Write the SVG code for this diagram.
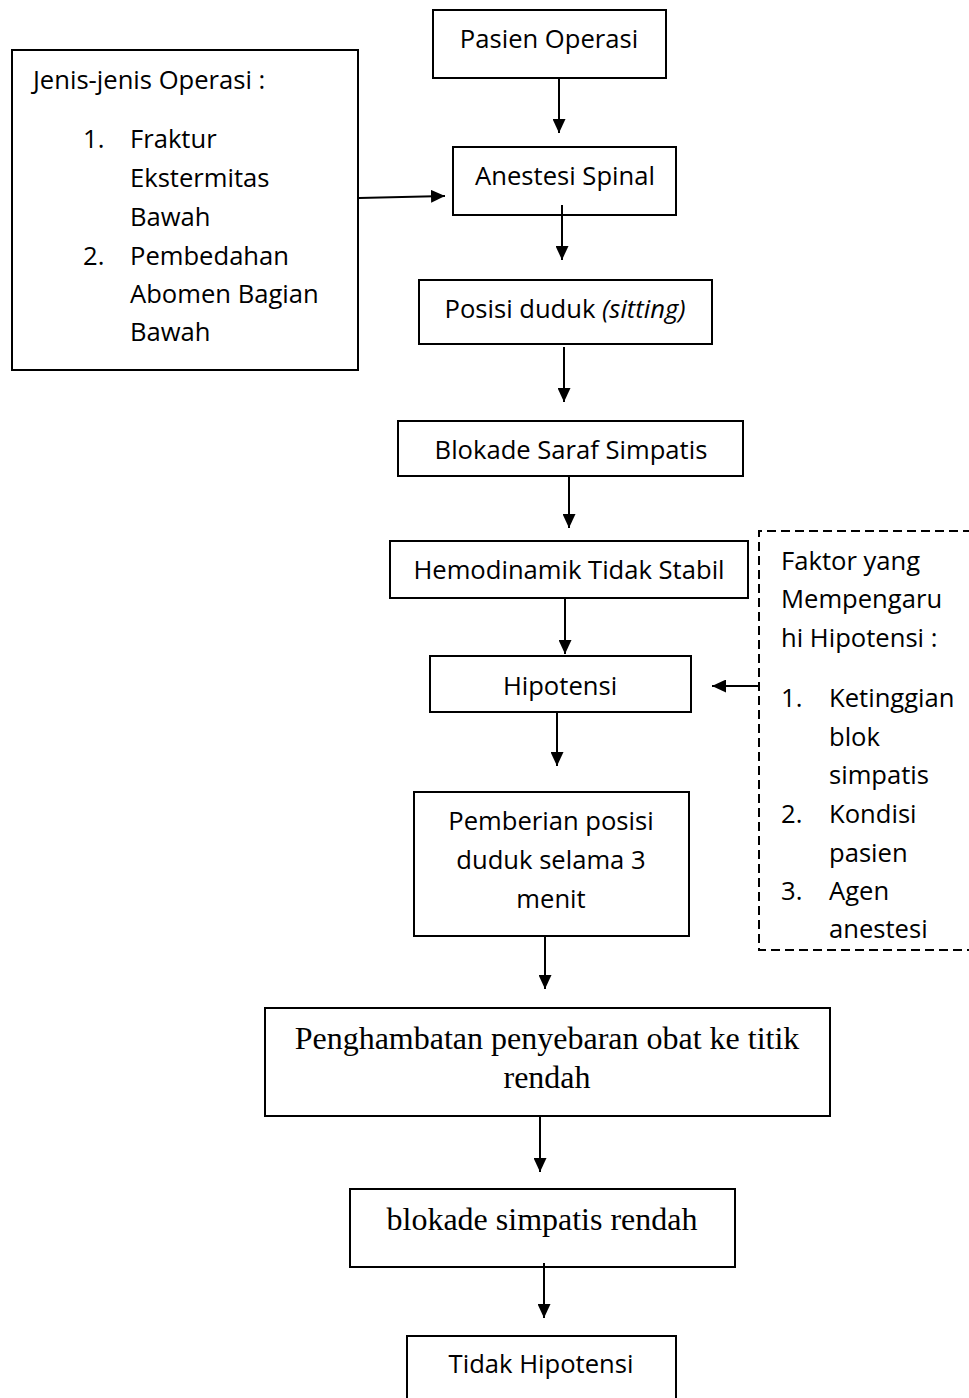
<svg xmlns="http://www.w3.org/2000/svg" width="969" height="1398" viewBox="0 0 969 1398">
<style>
.box{fill:#fff;stroke:#000;stroke-width:2}
.dash{fill:none;stroke:#000;stroke-width:2;stroke-dasharray:9 5}
.t{font-family:"Open Sans","Noto Sans",sans-serif;font-size:25.6px;fill:#000}
.c{text-anchor:middle}
.s{font-family:"Liberation Serif","Times New Roman",serif;font-size:32px;fill:#000;text-anchor:middle}
.con line{stroke:#000;stroke-width:2;marker-end:url(#ah)}
</style>
<defs>
<marker id="ah" markerUnits="userSpaceOnUse" markerWidth="14" markerHeight="13" refX="14" refY="6.5" orient="auto">
<path d="M0,0 L14,6.5 L0,13 z" fill="#000"/>
</marker>
</defs>
<rect width="969" height="1398" fill="#fff"/>
<g id="jenis-operasi">
<rect class="box" x="12" y="50" width="346" height="320"/>
<text class="t" x="33" y="89">Jenis-jenis Operasi :</text>
<text class="t" x="83" y="148">1.</text>
<text class="t" x="130" y="148">Fraktur</text>
<text class="t" x="130" y="187">Ekstermitas</text>
<text class="t" x="130" y="226">Bawah</text>
<text class="t" x="83" y="265">2.</text>
<text class="t" x="130" y="265">Pembedahan</text>
<text class="t" x="130" y="303">Abomen Bagian</text>
<text class="t" x="130" y="341">Bawah</text>
</g>
<g id="pasien-operasi">
<rect class="box" x="433" y="10" width="233" height="68"/>
<text class="t c" x="549" y="48">Pasien Operasi</text>
</g>
<g id="anestesi-spinal">
<rect class="box" x="453" y="147" width="223" height="68"/>
<text class="t c" x="565" y="185">Anestesi Spinal</text>
</g>
<g id="posisi-duduk">
<rect class="box" x="419" y="280" width="293" height="64"/>
<text class="t c" x="565" y="318">Posisi duduk <tspan font-style="italic">(sitting)</tspan></text>
</g>
<g id="blokade-saraf">
<rect class="box" x="398" y="421" width="345" height="55"/>
<text class="t c" x="571" y="459">Blokade Saraf Simpatis</text>
</g>
<g id="hemodinamik">
<rect class="box" x="390" y="541" width="358" height="57"/>
<text class="t c" x="569" y="579">Hemodinamik Tidak Stabil</text>
</g>
<g id="hipotensi">
<rect class="box" x="430" y="656" width="261" height="56"/>
<text class="t c" x="560" y="695">Hipotensi</text>
</g>
<g id="pemberian-posisi">
<rect class="box" x="414" y="792" width="275" height="144"/>
<text class="t c" x="551" y="830">Pemberian posisi</text>
<text class="t c" x="551" y="869">duduk selama 3</text>
<text class="t c" x="551" y="908">menit</text>
</g>
<g id="faktor">
<path class="dash" d="M972,531 H759 V950 H972"/>
<text class="t" x="781" y="570">Faktor yang</text>
<text class="t" x="781" y="608">Mempengaru</text>
<text class="t" x="781" y="647">hi Hipotensi :</text>
<text class="t" x="781" y="707">1.</text>
<text class="t" x="829" y="707">Ketinggian</text>
<text class="t" x="829" y="746">blok</text>
<text class="t" x="829" y="784">simpatis</text>
<text class="t" x="781" y="823">2.</text>
<text class="t" x="829" y="823">Kondisi</text>
<text class="t" x="829" y="862">pasien</text>
<text class="t" x="781" y="900">3.</text>
<text class="t" x="829" y="900">Agen</text>
<text class="t" x="829" y="938">anestesi</text>
</g>
<g id="penghambatan">
<rect class="box" x="265" y="1008" width="565" height="108"/>
<text class="s" x="547" y="1049">Penghambatan penyebaran obat ke titik</text>
<text class="s" x="547" y="1088">rendah</text>
</g>
<g id="blokade-rendah">
<rect class="box" x="350" y="1189" width="385" height="78"/>
<text class="s" x="542" y="1230">blokade simpatis rendah</text>
</g>
<g id="tidak-hipotensi">
<rect class="box" x="407" y="1336" width="269" height="70"/>
<text class="t c" x="541" y="1373">Tidak Hipotensi</text>
</g>
<g id="connectors" class="con">
<line x1="359" y1="198" x2="445" y2="196"/>
<line x1="559" y1="78" x2="559" y2="133"/>
<line x1="562" y1="205" x2="562" y2="260"/>
<line x1="564" y1="347" x2="564" y2="402"/>
<line x1="569" y1="476" x2="569" y2="528"/>
<line x1="565" y1="598" x2="565" y2="654"/>
<line x1="557" y1="712" x2="557" y2="766"/>
<line x1="758" y1="686" x2="712" y2="686"/>
<line x1="545" y1="936" x2="545" y2="989"/>
<line x1="540" y1="1116" x2="540" y2="1172"/>
<line x1="544" y1="1263" x2="544" y2="1318"/>
</g>
</svg>
